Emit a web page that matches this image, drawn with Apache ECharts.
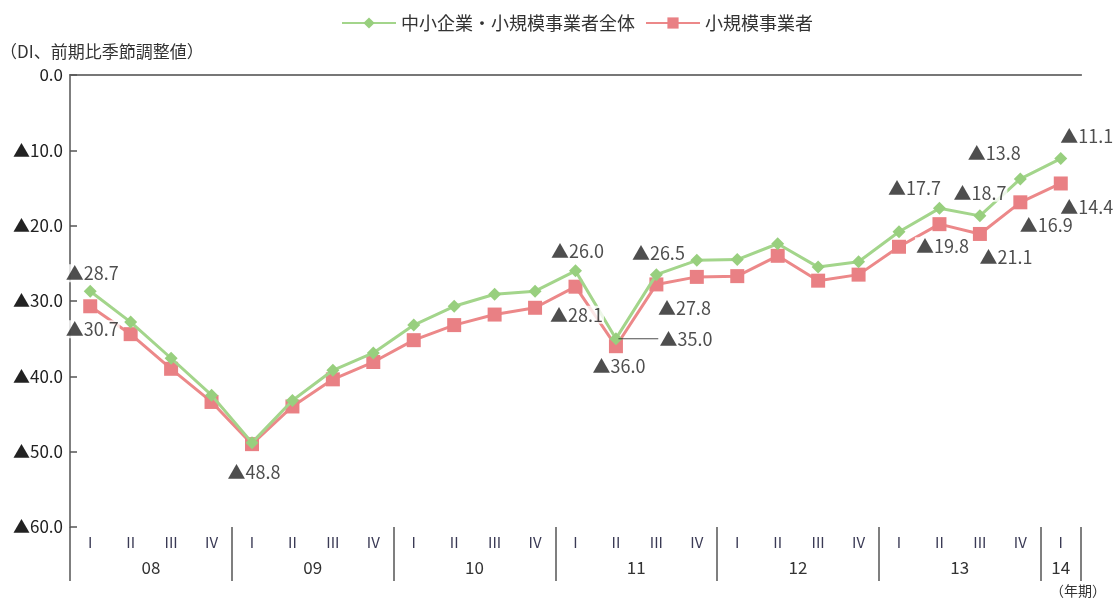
<!DOCTYPE html>
<html><head><meta charset="utf-8">
<script src="https://cdn.jsdelivr.net/npm/echarts@6/dist/echarts.min.js"></script>
<style>html,body{margin:0;padding:0;background:#fff}#c{width:1117px;height:604px}</style>
</head><body><div id="c"></div>
<script>
// ---- data ----
const quarters = ['I','II','III','IV','I','II','III','IV','I','II','III','IV','I','II','III','IV','I','II','III','IV','I','II','III','IV','I'];
const years = ['08','09','10','11','12','13','14'];
const quartersPerYear = [4,4,4,4,4,4,1];
const seriesNames = ['中小企業・小規模事業者全体','小規模事業者'];
const allSME = [-28.7,-32.8,-37.6,-42.5, -48.8,-43.2,-39.2,-36.9, -33.2,-30.7,-29.1,-28.7, -26.0,-35.0,-26.5,-24.6, -24.5,-22.4,-25.5,-24.8, -20.8,-17.7,-18.7,-13.8, -11.1];
const smallBiz = [-30.7,-34.4,-39.0,-43.4, -49.0,-44.0,-40.4,-38.1, -35.2,-33.2,-31.8,-30.9, -28.1,-36.0,-27.8,-26.8, -26.7,-24.0,-27.3,-26.5, -22.8,-19.8,-21.1,-16.9, -14.4];
const labeledSME = [0,4,12,13,14,21,22,23,24];
const labeledSmall = [0,12,13,14,21,22,23,24];

// ---- style / layout config ----
const FONT = '"Noto Sans CJK JP", "Noto Sans", sans-serif';
const CJK = '"Noto Sans CJK JP", sans-serif';
const GREEN = '#a3d58b', GREEN_M = '#98cf7e';
const RED = '#ec8889', RED_M = '#e98084';
const labelOffsetsSME = {0:[2,-18],4:[2,30],12:[2,-20],13:[50,0],14:[2,-21],21:[-25,-20],22:[0,-23],23:[-26,-26],24:[26,-22]};
const labelOffsetsSmall = {0:[2,23],12:[1,28],13:[3,20],14:[28,24],21:[3,22],22:[26,23],23:[26,23],24:[26,24]};
const leaderIdx = 13;

const boundaries = [0];
quartersPerYear.forEach(n => boundaries.push(boundaries[boundaries.length-1] + n));
const centers = quartersPerYear.map((n,i) => boundaries[i] + n/2);

function tri(v){ return v === 0 ? '0.0' : '▲' + Math.abs(v).toFixed(1); }

function labelData(values, idxs, offs, leader){
  return values.map((v,i) => {
    if (idxs.indexOf(i) < 0) return {value: v, label: {show: false}};
    const lab = {show: true, position: 'inside', offset: offs[i], formatter: tri(v)};
    if (leader && i === leaderIdx){
      lab.formatter = '{ln|}{t|' + tri(v) + '}';
      lab.backgroundColor = 'transparent';
      lab.padding = 0;
    }
    return {value: v, label: lab};
  });
}

const labelStyle = {
  color: '#222', fontSize: 18, fontFamily: FONT, backgroundColor: '#fff', padding: [0,1],
  align: 'center', verticalAlign: 'middle',
  rich: {
    ln: {width: 40, height: 1, backgroundColor: '#222'},
    t: {color: '#222', fontSize: 18, fontFamily: FONT, backgroundColor: '#fff', padding: [0,1]}
  }
};

const axisColor = '#555';
const chart = echarts.init(document.getElementById('c'));
chart.setOption({
  animation: false,
  backgroundColor: '#fff',
  title: [
    {text: '（DI、前期比季節調整値）', left: 0, top: 43, padding: 0,
     textStyle: {fontSize: 17, fontWeight: 'normal', color: '#333', fontFamily: CJK}},
    {text: '（年期）', left: 1050, top: 584, padding: 0,
     textStyle: {fontSize: 14, fontWeight: 'normal', color: '#333', fontFamily: CJK}}
  ],
  legend: {
    data: seriesNames, left: 336, top: 9, itemWidth: 54, itemHeight: 14, itemGap: 10,
    textStyle: {fontSize: 18, color: '#333', fontFamily: CJK}
  },
  grid: {left: 70, right: 36, top: 75, bottom: 77},
  xAxis: [
    {type: 'category', data: quarters, position: 'bottom', boundaryGap: true,
     axisLine: {lineStyle: {color: axisColor, width: 1.5}},
     axisTick: {length: 28, lineStyle: {color: axisColor, width: 1.5}},
     axisLabel: {margin: 8, fontSize: 15, color: '#3a3a55', fontFamily: FONT}},
    {type: 'value', min: 0, max: 25, position: 'bottom',
     axisLine: {show: false}, splitLine: {show: false},
     axisTick: {show: true, length: 54, customValues: boundaries, lineStyle: {color: axisColor, width: 1.5}},
     axisLabel: {customValues: centers, formatter: v => years[centers.indexOf(v)], margin: 32, fontSize: 17, color: '#333', fontFamily: FONT}},
    {type: 'category', data: quarters, position: 'top',
     axisLine: {lineStyle: {color: '#777', width: 2}},
     axisTick: {show: false}, axisLabel: {show: false}}
  ],
  yAxis: {
    type: 'value', min: -60, max: 0, interval: 10,
    axisLine: {show: true, lineStyle: {color: axisColor, width: 1.5}},
    axisTick: {show: true, inside: true, length: 7, lineStyle: {color: axisColor, width: 1.5}},
    splitLine: {show: false},
    axisLabel: {formatter: tri, margin: 7, fontSize: 17, color: '#222', fontFamily: FONT}
  },
  series: [
    {name: seriesNames[1], type: 'line', data: smallBiz, z: 2,
     symbol: 'rect', symbolSize: 14,
     lineStyle: {color: RED, width: 3}, itemStyle: {color: RED_M}},
    {name: seriesNames[0], type: 'line', data: allSME, z: 3,
     symbol: 'diamond', symbolSize: 13,
     lineStyle: {color: GREEN, width: 3}, itemStyle: {color: GREEN_M}},
    {type: 'scatter', data: labelData(smallBiz, labeledSmall, labelOffsetsSmall, false), z: 10, silent: true,
     symbolSize: 1, itemStyle: {color: 'rgba(0,0,0,0)'}, label: labelStyle},
    {type: 'scatter', data: labelData(allSME, labeledSME, labelOffsetsSME, true), z: 10, silent: true,
     symbolSize: 1, itemStyle: {color: 'rgba(0,0,0,0)'}, label: labelStyle}
  ]
});
</script></body></html>
